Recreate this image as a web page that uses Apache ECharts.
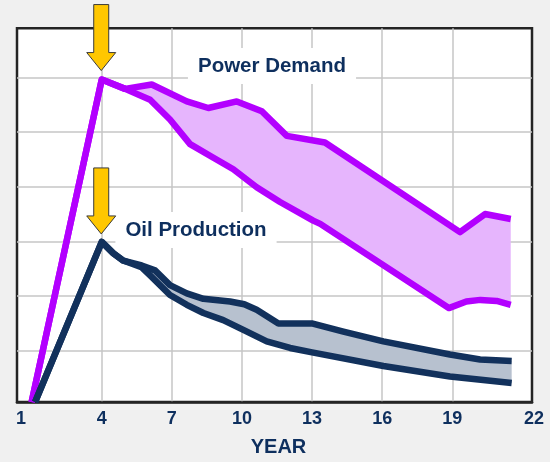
<!DOCTYPE html>
<html>
<head>
<meta charset="utf-8">
<script src="https://cdn.jsdelivr.net/npm/echarts@6/dist/echarts.min.js"></script>
<style>
  html, body { margin: 0; padding: 0; background: #F0F0F0; }
  #chart { width: 550px; height: 462px; }
</style>
</head>
<body>
<div id="chart"></div>
<script>
// ---- data (years, index values) ----
const tickLabels = ['1', '4', '7', '10', '13', '16', '19', '22'];
const gridYears = [4, 7, 10, 13, 16, 19];
const gridValues = [1, 2, 3, 4, 5, 6];

const pdHighYears  = [1.0, 4.0, 5.0, 6.14, 7.64, 8.56, 9.78, 10.85, 11.92, 13.55, 19.33, 20.4, 21.5];
const pdHighValues = [0.06, 5.96, 5.79, 5.87, 5.56, 5.44, 5.56, 5.38, 4.93, 4.81, 3.17, 3.50, 3.41];

const pdLowYears  = [1.0, 4.0, 5.0, 6.07, 6.92, 7.78, 8.78, 9.63, 10.63, 11.63, 13.05, 13.35, 18.85, 19.6, 20.2, 20.9, 21.5];
const pdLowValues = [0.06, 5.96, 5.79, 5.59, 5.23, 4.78, 4.53, 4.32, 3.99, 3.72, 3.38, 3.32, 1.78, 1.90, 1.93, 1.91, 1.84];

const oilHighYears  = [1.15, 4.0, 4.5, 4.92, 5.71, 6.28, 6.92, 7.64, 8.35, 9.49, 10.1, 10.63, 11.56, 12.99, 14.34, 16.05, 18.9, 20.19, 21.54];
const oilHighValues = [0.06, 2.99, 2.78, 2.65, 2.56, 2.47, 2.20, 2.05, 1.95, 1.90, 1.85, 1.75, 1.50, 1.50, 1.35, 1.17, 0.93, 0.84, 0.81];

const oilLowYears  = [1.15, 4.0, 4.5, 4.92, 5.7, 6.07, 6.92, 7.64, 8.35, 9.2, 10.06, 11.06, 12.06, 13.0, 16.05, 18.9, 21.54];
const oilLowValues = [0.06, 2.99, 2.78, 2.65, 2.53, 2.38, 2.02, 1.84, 1.69, 1.56, 1.38, 1.17, 1.05, 0.97, 0.72, 0.53, 0.41];

// ---- helpers ----
function pairs(xs, ys) { return xs.map((x, i) => [x, ys[i]]); }

const X_MIN = 0.375, X_MAX = 22.41;
const Y_MIN = 0.062, Y_MAX = 6.898;
const NAVY = '#0E2F5E';
const PD_LINE = '#B300FF';
const PD_FILL = '#E6B5FD';
const OIL_LINE = '#12315C';
const OIL_FILL = '#B7C1CF';

const labelPositions = [X_MIN].concat(gridYears).concat([X_MAX]);

function bandSeries(name, hx, hy, lx, ly, fill) {
  return {
    type: 'custom',
    name: name,
    data: [0],
    z: 1,
    silent: true,
    renderItem: function (params, api) {
      const pts = [];
      hx.forEach((x, i) => pts.push(api.coord([x, hy[i]])));
      for (let i = lx.length - 1; i >= 0; i--) pts.push(api.coord([lx[i], ly[i]]));
      return { type: 'polygon', shape: { points: pts }, style: { fill: fill } };
    }
  };
}

function lineSeries(name, xs, ys, color) {
  return {
    type: 'line',
    name: name,
    data: pairs(xs, ys),
    showSymbol: false,
    symbol: 'none',
    smooth: false,
    z: 3,
    lineStyle: { color: color, width: 6.5, join: 'round', cap: 'butt' }
  };
}

const chart = echarts.init(document.getElementById('chart'), null, { renderer: 'canvas' });

const option = {
  backgroundColor: '#F0F0F0',
  animation: false,
  grid: {
    left: 17, right: 18, top: 28.3, bottom: 57.7,
    show: true, backgroundColor: '#FFFFFF', borderColor: '#242424', borderWidth: 2.5
  },
  xAxis: {
    type: 'value', min: X_MIN, max: X_MAX,
    name: 'YEAR', nameLocation: 'middle', nameGap: 35,
    nameTextStyle: { color: NAVY, fontFamily: 'Liberation Sans, Arial', fontWeight: 'bold', fontSize: 20, padding: [0, 0, 0, 8] },
    axisLine: { show: true, onZero: false, lineStyle: { color: '#242424', width: 2.5 } },
    axisTick: { show: false, customValues: gridYears },
    splitLine: { show: true, lineStyle: { color: '#C6C6C6', width: 1.5 } },
    axisLabel: {
      customValues: labelPositions,
      margin: 8,
      color: NAVY, fontFamily: 'Liberation Sans, Arial', fontWeight: 'bold', fontSize: 18,
      formatter: function (v) {
        let best = 0;
        labelPositions.forEach((p, i) => { if (Math.abs(p - v) < Math.abs(labelPositions[best] - v)) best = i; });
        if (best === 0) return '{l|' + tickLabels[best] + '}';
        if (best === labelPositions.length - 1) return '{r|' + tickLabels[best] + '}';
        return tickLabels[best];
      },
      rich: {
        l: { color: NAVY, fontFamily: 'Liberation Sans, Arial', fontWeight: 'bold', fontSize: 18, padding: [0, 0, 0, 8] },
        r: { color: NAVY, fontFamily: 'Liberation Sans, Arial', fontWeight: 'bold', fontSize: 18, padding: [0, 0, 0, 4] }
      }
    }
  },
  yAxis: {
    type: 'value', min: Y_MIN, max: Y_MAX,
    axisLine: { show: false },
    axisTick: { show: false, customValues: gridValues },
    axisLabel: { show: false },
    splitLine: { show: true, lineStyle: { color: '#C6C6C6', width: 1.5 } }
  },
  series: [
    bandSeries('Power Demand band', pdHighYears, pdHighValues, pdLowYears, pdLowValues, PD_FILL),
    bandSeries('Oil Production band', oilHighYears, oilHighValues, oilLowYears, oilLowValues, OIL_FILL),
    lineSeries('Power Demand high', pdHighYears, pdHighValues, PD_LINE),
    lineSeries('Power Demand low', pdLowYears, pdLowValues, PD_LINE),
    lineSeries('Oil Production high', oilHighYears, oilHighValues, OIL_LINE),
    lineSeries('Oil Production low', oilLowYears, oilLowValues, OIL_LINE)
  ]
};
chart.setOption(option);

// ---- annotations: labels with white boxes, and arrows at the peaks ----
function arrow(tip) {
  const tx = tip[0], ty = tip[1];
  const sw = 7.5, hw = 14.5, hh = 18, len = 66;
  return {
    type: 'polygon', z: 20,
    shape: { points: [
      [tx - sw, ty - len], [tx + sw, ty - len], [tx + sw, ty - hh], [tx + hw, ty - hh],
      [tx, ty], [tx - hw, ty - hh], [tx - sw, ty - hh]
    ] },
    style: { fill: '#FFC700', stroke: '#3A3A3A', lineWidth: 1 }
  };
}
const pdPeak = chart.convertToPixel({ gridIndex: 0 }, [pdHighYears[1], pdHighValues[1]]);
const oilPeak = chart.convertToPixel({ gridIndex: 0 }, [oilHighYears[1], oilHighValues[1]]);

function label(text, cx, cy) {
  return {
    type: 'text', z: 10, x: cx, y: cy,
    style: {
      text: text, fill: NAVY, font: 'bold 20.5px "Liberation Sans", Arial',
      align: 'center', verticalAlign: 'middle',
      backgroundColor: '#FFFFFF', padding: [8, 10, 7, 10]
    }
  };
}

chart.setOption({
  graphic: [
    label('Power Demand', 272, 66),
    label('Oil Production', 196, 230),
    arrow([pdPeak[0] - 0.5, pdPeak[1] - 9]),
    arrow([oilPeak[0] - 0.5, oilPeak[1] - 8])
  ]
});
</script>
</body>
</html>
